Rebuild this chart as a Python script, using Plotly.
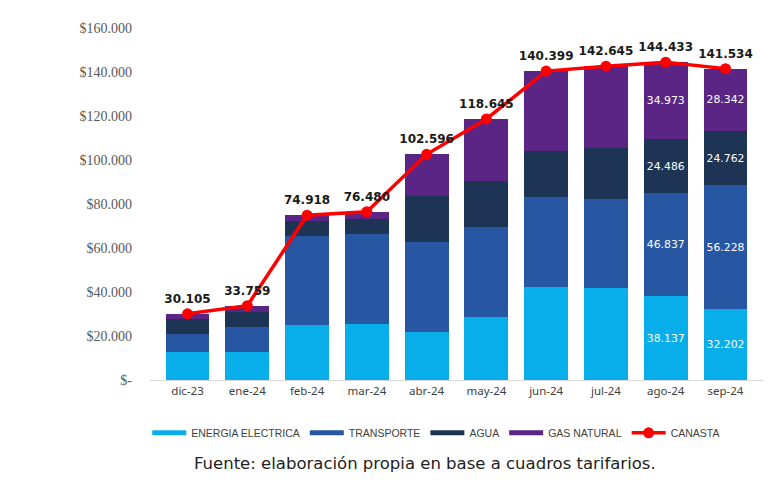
import plotly.graph_objects as go

months = ["dic-23", "ene-24", "feb-24", "mar-24", "abr-24", "may-24",
          "jun-24", "jul-24", "ago-24", "sep-24"]
energia = [12900, 12900, 25000, 25500, 22000, 28500, 42400, 41700, 38137, 32202]
transporte = [8000, 11300, 40600, 40900, 40900, 40900, 40600, 40400, 46837, 56228]
agua = [7000, 6900, 6800, 6900, 20700, 21100, 21200, 23200, 24486, 24762]
gas = [2205, 2659, 2518, 3180, 18996, 28145, 36199, 37345, 34973, 28342]
canasta = [30105, 33759, 74918, 76480, 102596, 118645, 140399, 142645, 144433, 141534]
labelled_months = ["ago-24", "sep-24"]

tick_vals = [0, 20000, 40000, 60000, 80000, 100000, 120000, 140000, 160000]
tick_text = ["$-", "$20.000", "$40.000", "$60.000", "$80.000", "$100.000",
             "$120.000", "$140.000", "$160.000"]

def fmt(v):
    return f"{v:,.0f}".replace(",", ".")

series = [
    ("ENERGIA ELECTRICA", energia, "#08AEEA"),
    ("TRANSPORTE", transporte, "#2757A2"),
    ("AGUA", agua, "#1E3455"),
    ("GAS NATURAL", gas, "#5B2585"),
]

fig = go.Figure()
for name, vals, color in series:
    texts = [fmt(v) if m in labelled_months else "" for m, v in zip(months, vals)]
    fig.add_trace(go.Bar(
        x=months, y=vals, name=name, marker=dict(color=color, line=dict(width=0)),
        text=texts, textposition="inside", insidetextanchor="middle",
        textangle=0, textfont=dict(color="white", size=12, family="DejaVu Sans"),
        showlegend=False, hoverinfo="skip",
    ))
    fig.add_trace(go.Scatter(
        x=[None], y=[None], mode="lines", name=name,
        line=dict(color=color, width=5), showlegend=True,
    ))

fig.add_trace(go.Scatter(
    x=months, y=canasta, name="CANASTA", mode="lines+markers+text",
    line=dict(color="#FF0000", width=3.5),
    marker=dict(color="#FF0000", size=11),
    text=[fmt(v) for v in canasta], textposition="top center",
    textfont=dict(color="#1a1a1a", size=12, family="DejaVu Sans", weight="bold"),
))

# the page body adds an 8px margin; the figure is sized to compensate
fig.update_layout(
    width=772, height=481,
    barmode="stack", bargap=0.265,
    plot_bgcolor="white", paper_bgcolor="white",
    margin=dict(l=142, r=17, t=20, b=109),
    showlegend=True,
    legend=dict(orientation="h", x=0.467, xanchor="center", y=-0.15, yanchor="middle",
                font=dict(size=10.5, color="#404040", family="Liberation Sans"),
                itemwidth=34, tracegroupgap=0, traceorder="normal"),
    xaxis=dict(showgrid=False, showline=True, linecolor="#d9d9d9", linewidth=1,
               automargin=False,
               ticks="", tickfont=dict(size=11.5, color="#404040", family="Noto Sans")),
    yaxis=dict(range=[0, 160000], tickvals=tick_vals, ticktext=tick_text,
               showgrid=False, showline=False, zeroline=False, ticks="",
               ticklabelstandoff=17, automargin=False,
               tickfont=dict(size=14, color="#595959", family="Liberation Serif")),
    annotations=[dict(
        text="Fuente: elaboración propia en base a cuadros tarifarios.",
        xref="paper", yref="paper", x=0.448, y=-0.236, xanchor="center", yanchor="middle",
        showarrow=False, font=dict(size=16.5, color="#222222", family="DejaVu Sans"),
    )],
)

fig.write_html("out.html")
